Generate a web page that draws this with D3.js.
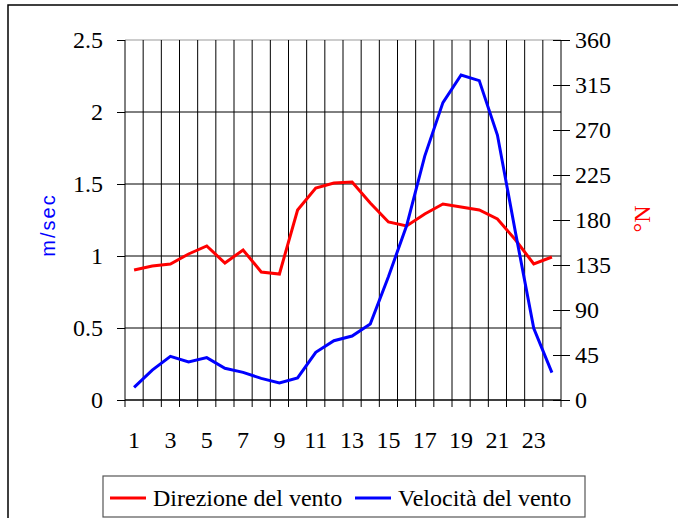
<!DOCTYPE html>
<html><head><meta charset="utf-8">
<script src="https://cdn.jsdelivr.net/npm/d3@7"></script>
<style>
body{margin:0;background:#fff;}
svg{display:block;}
text{font-family:"Liberation Serif","Times New Roman",serif;}
text.sans{font-family:"Liberation Sans",Arial,sans-serif;}
</style></head>
<body><svg id="c" width="678" height="518"></svg>
<script>
const hours = [1,2,3,4,5,6,7,8,9,10,11,12,13,14,15,16,17,18,19,20,21,22,23,24];
const direction = [130,134,136,146,154,137,150,128,126,190,212,217,218,197,178,174,186,196,193,190,181,160,136,143];
const speed = [0.088,0.208,0.303,0.264,0.294,0.22,0.192,0.15,0.118,0.153,0.331,0.412,0.444,0.528,0.856,1.21,1.694,2.065,2.257,2.218,1.84,1.16,0.498,0.19];
const leftTicks = [0,0.5,1,1.5,2,2.5];
const rightTicks = [0,45,90,135,180,225,270,315,360];
const xLabels = [1,3,5,7,9,11,13,15,17,19,21,23];
const seriesNames = ["Direzione del vento","Velocità del vento"];
const colors = ["#ff0000","#0000ff"];

const L=125,R=561,T=40,B=400;
const svg=d3.select("#c");
// outer frame
svg.append("rect").attr("x",8).attr("y",5).attr("width",720).attr("height",620)
  .attr("fill","none").attr("stroke","#000").attr("stroke-width",1.5);

const x=d3.scaleBand().domain(hours).range([L,R]).padding(0);
const bw=x.bandwidth();
const yL=d3.scaleLinear().domain([0,2.5]).range([B,T]);
const yR=d3.scaleLinear().domain([0,360]).range([B,T]);

// horizontal gridlines
svg.append("g").selectAll("line").data(leftTicks).join("line")
  .attr("x1",L).attr("x2",R).attr("y1",d=>yL(d)).attr("y2",d=>yL(d))
  .attr("stroke",d=>d===2.5?"#999":"#000").attr("stroke-width",1);
// vertical gridlines at category boundaries
svg.append("g").selectAll("line").data(hours.slice(1)).join("line")
  .attr("x1",d=>x(d)).attr("x2",d=>x(d)).attr("y1",T).attr("y2",B)
  .attr("stroke","#000").attr("stroke-width",1);

// bottom ticks at boundaries
const bounds=hours.map(h=>x(h)).concat([R]);
svg.append("g").selectAll("line").data(bounds).join("line")
  .attr("x1",d=>d).attr("x2",d=>d).attr("y1",B).attr("y2",B+7)
  .attr("stroke","#000");
// bottom labels
const gx=svg.append("g").attr("transform",`translate(0,${B})`)
  .call(d3.axisBottom(x).tickValues(xLabels).tickSize(0).tickPadding(0));
gx.select(".domain").attr("stroke","#000").attr("d",`M${L},0H${R}`);
gx.selectAll("text").attr("font-size",24).attr("fill","#000").attr("dy",0).attr("y",48);

// left axis
const gl=svg.append("g").attr("transform",`translate(${L},0)`)
  .call(d3.axisLeft(yL).tickValues(leftTicks).tickSize(8).tickPadding(14).tickFormat(d=>String(d)));
gl.select(".domain").attr("d",`M0,${T}V${B}`).attr("stroke","#000");
gl.selectAll("line").attr("stroke","#000");
gl.selectAll("text").attr("font-size",24).attr("fill","#000").attr("dy","0.33em");

// right axis
const gr=svg.append("g").attr("transform",`translate(${R},0)`)
  .call(d3.axisRight(yR).tickValues(rightTicks).tickSize(9).tickPadding(5).tickFormat(d=>String(d)));
gr.select(".domain").attr("d",`M0,${T}V${B}`).attr("stroke","#000");
gr.selectAll(".tick line").attr("x1",-8).attr("stroke","#000");
gr.selectAll("text").attr("font-size",24).attr("fill","#000").attr("dy","0.33em");

// lines
const cx=d=>x(d)+bw/2;
svg.append("path").datum(direction.map((v,i)=>[hours[i],v]))
  .attr("fill","none").attr("stroke",colors[0]).attr("stroke-width",3).attr("stroke-linejoin","miter")
  .attr("d",d3.line().x(d=>cx(d[0])).y(d=>yR(d[1])));
svg.append("path").datum(speed.map((v,i)=>[hours[i],v]))
  .attr("fill","none").attr("stroke",colors[1]).attr("stroke-width",3).attr("stroke-linejoin","miter")
  .attr("d",d3.line().x(d=>cx(d[0])).y(d=>yL(d[1])));

// axis titles
svg.append("text").attr("class","sans").attr("transform","translate(55,225) rotate(-90)")
  .attr("text-anchor","middle").attr("font-size",20).attr("letter-spacing","2px")
  .attr("fill","#0000ff").text("m/sec");
svg.append("text").attr("transform","translate(650,219) rotate(-90)")
  .attr("text-anchor","middle").attr("font-size",24)
  .attr("fill","#ff0000").text("°N");

// legend
svg.append("rect").attr("x",103).attr("y",476).attr("width",482).attr("height",41)
  .attr("fill","#fff").attr("stroke","#555").attr("stroke-width",1.2);
const lx=[110,355];
seriesNames.forEach((n,i)=>{
  svg.append("line").attr("x1",lx[i]).attr("x2",lx[i]+36).attr("y1",498).attr("y2",498)
    .attr("stroke",colors[i]).attr("stroke-width",3);
  svg.append("text").attr("x",lx[i]+43).attr("y",506).attr("font-size",24).attr("fill","#000").text(n);
});
</script></body></html>
